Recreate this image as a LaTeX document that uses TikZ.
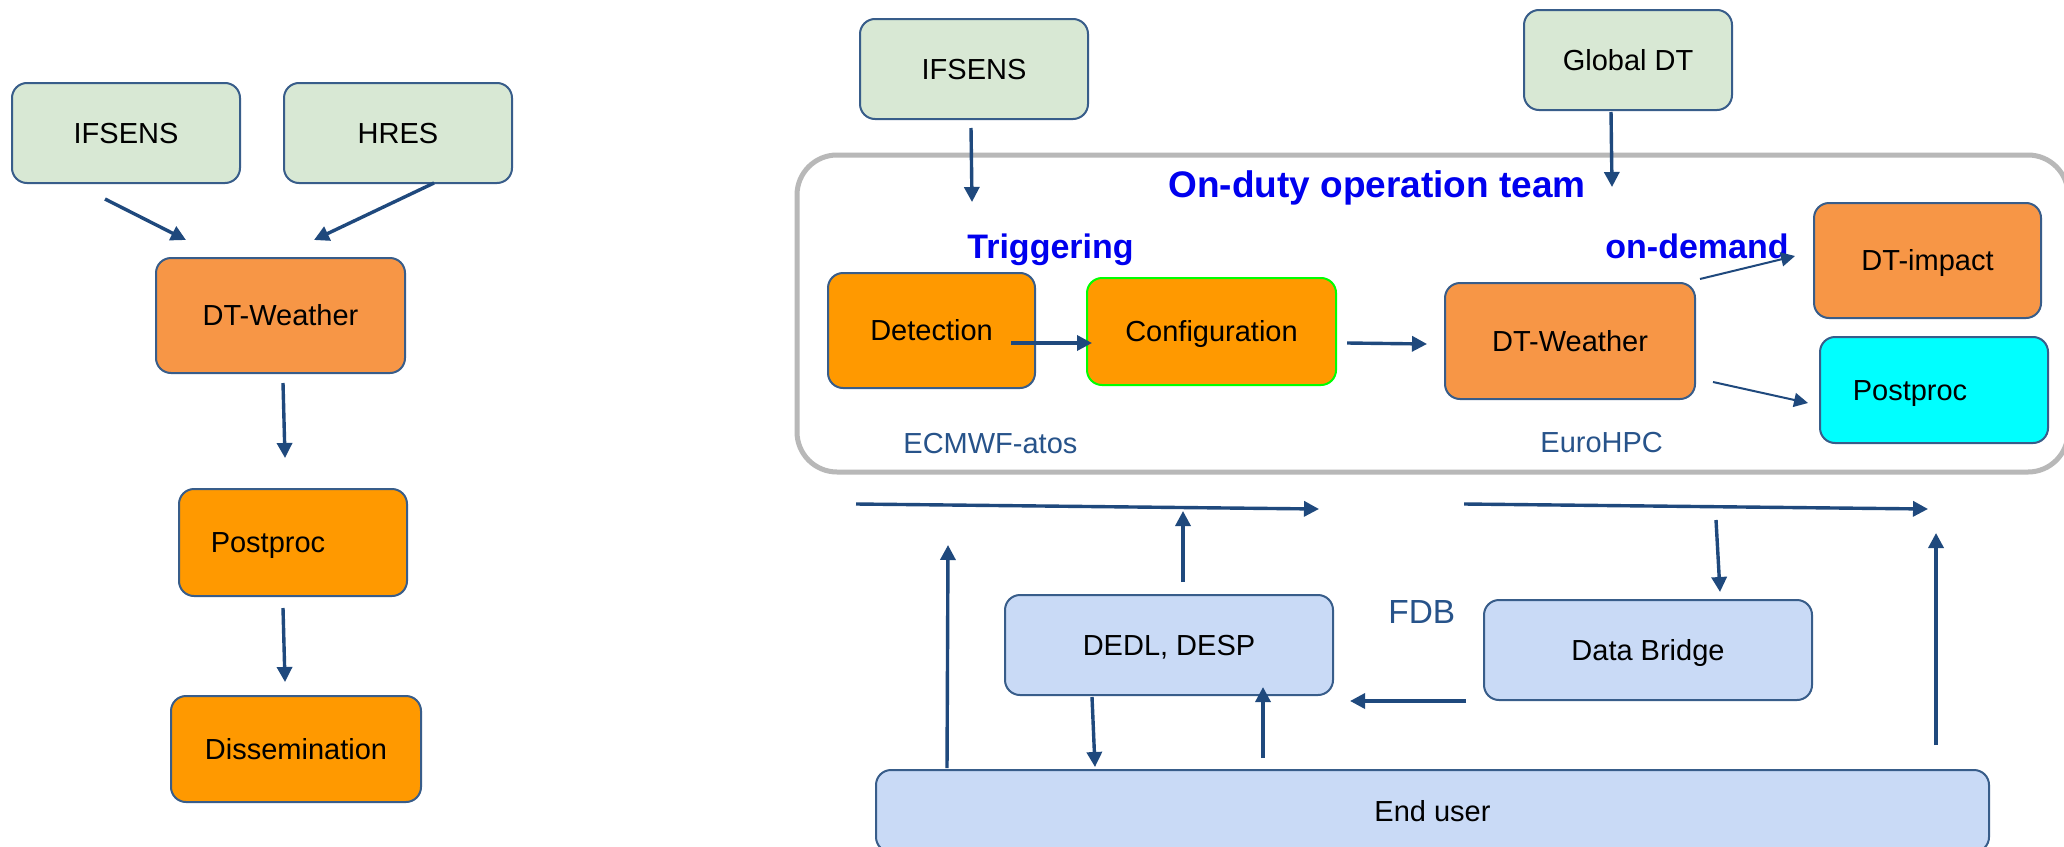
\documentclass[tikz,border=0pt]{standalone}
\usepackage{fontspec}
\setmainfont{Liberation Sans}
\usetikzlibrary{arrows.meta}
\definecolor{arrowblue}{HTML}{1F497D}
\definecolor{edgeblue}{HTML}{385D8A}
\definecolor{palegreen}{HTML}{D8E8D4}
\definecolor{dtorange}{HTML}{F79646}
\definecolor{brightorange}{HTML}{FF9900}
\definecolor{cyanfill}{HTML}{00FFFF}
\definecolor{lightblue}{HTML}{C9DAF6}
\definecolor{limegreen}{HTML}{00FF00}
\definecolor{titleblue}{HTML}{0000EE}
\definecolor{labelblue}{HTML}{27538A}
\definecolor{framegray}{HTML}{B8B8B8}
\begin{document}
\begin{tikzpicture}[x=0.5pt,y=-0.5pt,
  box/.style={draw=edgeblue, line width=1pt, rounded corners=7.5pt, inner sep=0pt, outer sep=0pt,
    font=\fontsize{14.5}{17}\selectfont, text height=10.4pt, text depth=0pt},
  greenbox/.style={box, fill=palegreen},
  dtbox/.style={box, fill=dtorange},
  orbox/.style={box, fill=brightorange},
  cybox/.style={box, fill=cyanfill},
  bluebox/.style={box, fill=lightblue},
  arr/.style={draw=arrowblue, line width=1.7pt, -{Triangle[length=7.5pt,width=7.5pt]}},
  thinarr/.style={draw=arrowblue, line width=1pt, -{Triangle[length=7pt,width=7pt]}},
  bluetitle/.style={text=titleblue, font=\fontsize{18.5}{22}\selectfont\bfseries, inner sep=0pt, anchor=base west},
  bluesub/.style={text=titleblue, font=\fontsize{17}{20}\selectfont\bfseries, inner sep=0pt, anchor=base west},
  sitelabel/.style={text=labelblue, font=\fontsize{14.5}{17}\selectfont, inner sep=0pt, anchor=base west},
  fdblabel/.style={text=labelblue, font=\fontsize{16.7}{20}\selectfont, inner sep=0pt, anchor=base west},
  teamframe/.style={draw=framegray, line width=2.5pt, rounded corners=20pt, inner sep=0pt}
]
\clip (0,0) rectangle (2064,846);
\fill[white] (0,0) rectangle (2064,846);

% ---------------- left chain ----------------
\node[greenbox, minimum width=114pt, minimum height=50pt] (lifs) at (126,133) {IFSENS};
\node[greenbox, minimum width=114pt, minimum height=50pt] (lhres) at (398,133) {HRES};
\node[dtbox, minimum width=124.5pt, minimum height=57.5pt] (ldtw) at (280.5,315.5) {DT-Weather};
\node[orbox, minimum width=114pt, minimum height=53.5pt] (lpost) at (293,542.5) {\hspace*{-25pt}Postproc};
\node[orbox, minimum width=125pt, minimum height=53pt] (ldiss) at (296,749) {Dissemination};

\coordinate (a1s) at (105,199);  \coordinate (a1e) at (186,240);
\coordinate (a2s) at (434,183);  \coordinate (a2e) at (314,240);
\coordinate (a3s) at (283,383);  \coordinate (a3e) at (285,458);
\coordinate (a4s) at (283,608);  \coordinate (a4e) at (285,682);
\draw[arr] (a1s) -- (a1e);
\draw[arr] (a2s) -- (a2e);
\draw[arr] (a3s) -- (a3e);
\draw[arr] (a4s) -- (a4e);

% ---------------- right: team frame ----------------
\node[teamframe, minimum width=635.5pt, minimum height=158.5pt] (team) at (1432.5,313.5) {};

\node[greenbox, minimum width=114pt, minimum height=50pt] (rifs) at (974,69) {IFSENS};
\node[greenbox, minimum width=104pt, minimum height=50pt] (gdt) at (1628,60) {Global DT};

\node[bluetitle] (ontitle) at (1168,197) {On-duty operation team};
\node[bluesub] (trig) at (967,258) {Triggering};
\node[bluesub] (ondem) at (1605,258) {on-demand};

\node[orbox, minimum width=103.5pt, minimum height=57.5pt] (det) at (931.5,330.5) {Detection};
\node[orbox, draw=limegreen, minimum width=124.5pt, minimum height=53.5pt] (conf) at (1211.5,331.5) {Configuration};
\node[dtbox, minimum width=125pt, minimum height=58pt] (rdtw) at (1570,341) {DT-Weather};
\node[dtbox, minimum width=113.5pt, minimum height=57.5pt] (imp) at (1927.5,260.5) {DT-impact};
\node[cybox, minimum width=114pt, minimum height=53pt] (rpost) at (1934,390) {\hspace*{-24pt}Postproc};

\node[sitelabel] (ecmwf) at (903,453) {ECMWF-atos};
\node[sitelabel] (eurohpc) at (1540,452) {EuroHPC};

\coordinate (b1s) at (971,128);   \coordinate (b1e) at (972,202);
\coordinate (b2s) at (1611,112);  \coordinate (b2e) at (1612,187);
\coordinate (b3s) at (1011,343);  \coordinate (b3e) at (1092,343);
\coordinate (b4s) at (1347,343);  \coordinate (b4e) at (1427,344);
\coordinate (b5s) at (1700,279);  \coordinate (b5e) at (1795,256);
\coordinate (b6s) at (1713,382);  \coordinate (b6e) at (1808,403);
\draw[arr] (b1s) -- (b1e);
\draw[arr] (b2s) -- (b2e);
\draw[arr] (b3s) -- (b3e);
\draw[arr] (b4s) -- (b4e);
\draw[thinarr] (b5s) -- (b5e);
\draw[thinarr] (b6s) -- (b6e);

% ---------------- lower part ----------------
\node[bluebox, minimum width=164pt, minimum height=50pt] (dedl) at (1169,645) {DEDL, DESP};
\node[bluebox, minimum width=164pt, minimum height=50pt] (db) at (1648,650) {Data Bridge};
\node[bluebox, minimum width=556.5pt, minimum height=41pt] (eu) at (1432.5,811) {End user};
\node[fdblabel] (fdb) at (1388,623) {FDB};

\coordinate (c1s) at (856,504);   \coordinate (c1e) at (1319,509);
\coordinate (c2s) at (1464,504);  \coordinate (c2e) at (1928,509);
\coordinate (c3s) at (947,768);   \coordinate (c3e) at (948,545);
\coordinate (c4s) at (1183,582);  \coordinate (c4e) at (1183,511);
\coordinate (c5s) at (1092,697);  \coordinate (c5e) at (1095,767);
\coordinate (c6s) at (1263,758);  \coordinate (c6e) at (1263,687);
\coordinate (c7s) at (1466,701);  \coordinate (c7e) at (1350,701);
\coordinate (c8s) at (1716,520);  \coordinate (c8e) at (1720,592);
\coordinate (c9s) at (1936,745);  \coordinate (c9e) at (1936,533);
\draw[arr] (c1s) -- (c1e);
\draw[arr] (c2s) -- (c2e);
\draw[arr] (c3s) -- (c3e);
\draw[arr] (c4s) -- (c4e);
\draw[arr] (c5s) -- (c5e);
\draw[arr] (c6s) -- (c6e);
\draw[arr] (c7s) -- (c7e);
\draw[arr] (c8s) -- (c8e);
\draw[arr] (c9s) -- (c9e);
\end{tikzpicture}
\end{document}
